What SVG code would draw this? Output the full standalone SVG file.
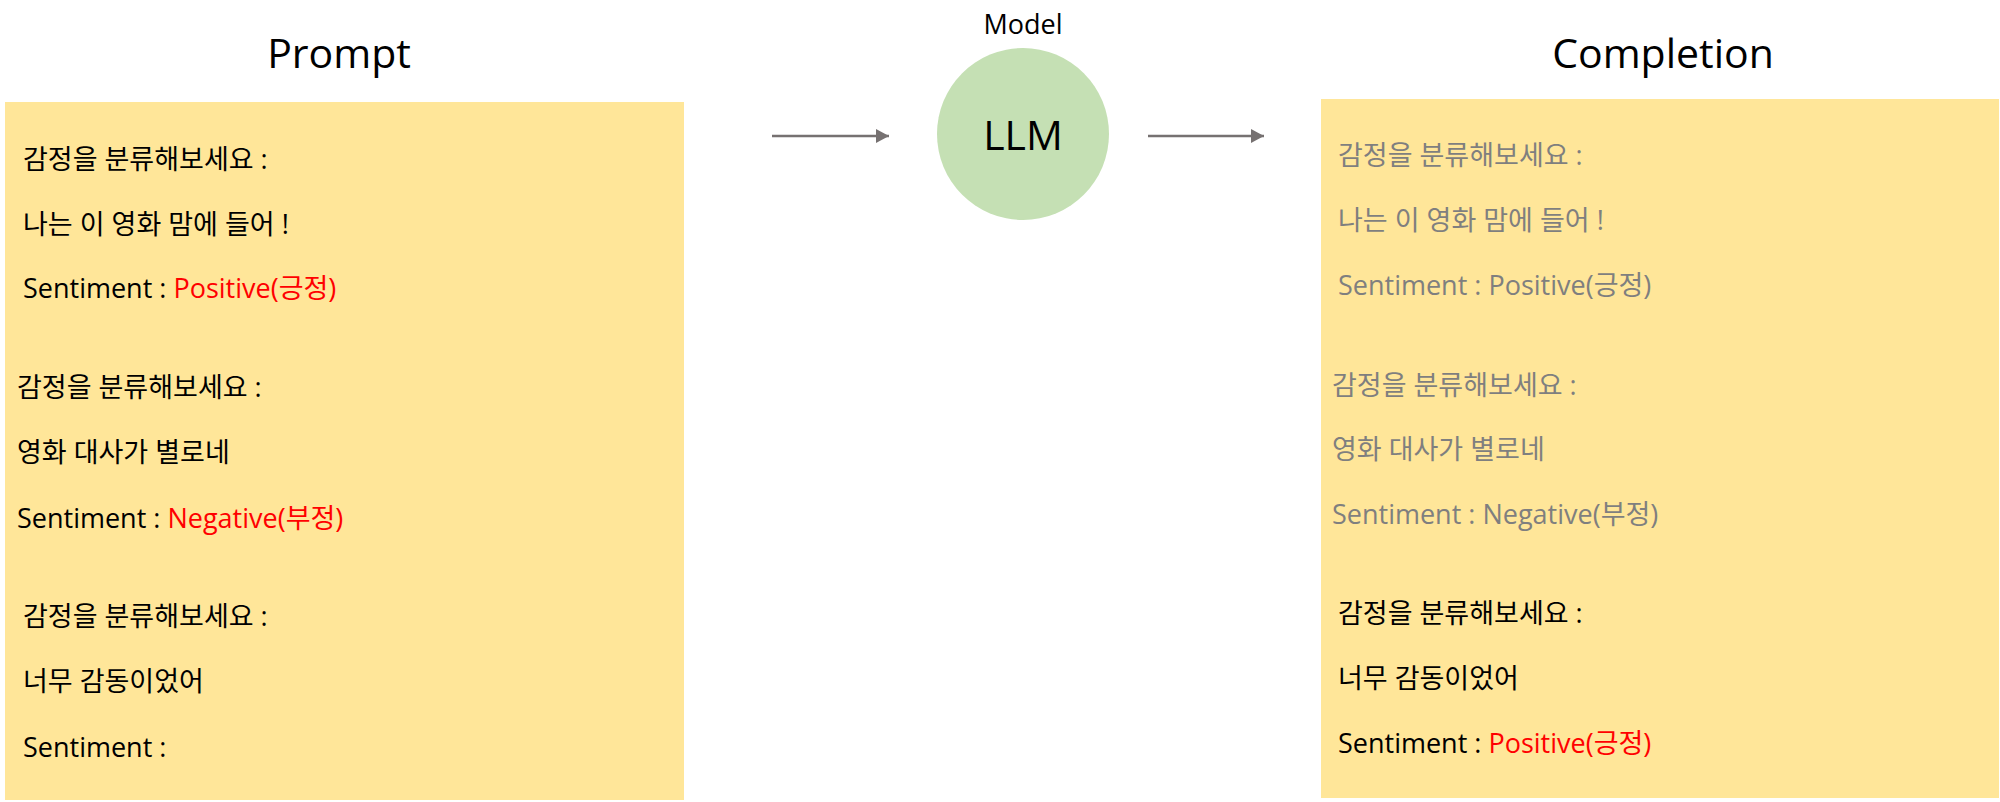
<svg xmlns="http://www.w3.org/2000/svg" width="2000" height="802" viewBox="0 0 2000 802">
<defs>
<style>
.title{font-family:"Open Sans","Noto Sans CJK KR",sans-serif;font-size:41px;fill:#000;text-anchor:middle}
.t{font-family:"Open Sans","Noto Sans CJK KR",sans-serif;font-size:27px;fill:#000}
.g{fill:#7F7F7F}
.r{fill:#FF0000}
.box{fill:#FFE699}
.conn{stroke:#767171;stroke-width:2.5;fill:none}
</style>
<marker id="ah" markerWidth="13" markerHeight="14" refX="13" refY="7" orient="auto" markerUnits="userSpaceOnUse">
<path d="M0,0 L13,7 L0,14 Z" fill="#767171"/>
</marker>
</defs>
<rect width="2000" height="802" fill="#FFFFFF"/>
<g id="prompt">
<text class="title" x="339" y="68">Prompt</text>
<rect class="box" x="5" y="102" width="679" height="698"/>
<text class="t" x="23" y="169">감정을 분류해보세요 :</text>
<text class="t" x="23" y="234">나는 이 영화 맘에 들어 !</text>
<text class="t" x="23" y="298">Sentiment : <tspan class="r">Positive(긍정)</tspan></text>
<text class="t" x="17" y="397">감정을 분류해보세요 :</text>
<text class="t" x="17" y="462">영화 대사가 별로네</text>
<text class="t" x="17" y="528">Sentiment : <tspan class="r">Negative(부정)</tspan></text>
<text class="t" x="23" y="626">감정을 분류해보세요 :</text>
<text class="t" x="23" y="691">너무 감동이었어</text>
<text class="t" x="23" y="757">Sentiment :</text>
</g>
<g id="model">
<text class="t" x="1023" y="34" text-anchor="middle">Model</text>
<circle cx="1023" cy="134" r="86" fill="#C5E0B4"/>
<text class="title" x="1023" y="150" font-size="39">LLM</text>
</g>
<g id="completion">
<text class="title" x="1663" y="68">Completion</text>
<rect class="box" x="1321" y="99" width="678" height="699"/>
<text class="t g" x="1338" y="165">감정을 분류해보세요 :</text>
<text class="t g" x="1338" y="230">나는 이 영화 맘에 들어 !</text>
<text class="t g" x="1338" y="295">Sentiment : Positive(긍정)</text>
<text class="t g" x="1332" y="395">감정을 분류해보세요 :</text>
<text class="t g" x="1332" y="459">영화 대사가 별로네</text>
<text class="t g" x="1332" y="524">Sentiment : Negative(부정)</text>
<text class="t" x="1338" y="623">감정을 분류해보세요 :</text>
<text class="t" x="1338" y="688">너무 감동이었어</text>
<text class="t" x="1338" y="753">Sentiment : <tspan class="r">Positive(긍정)</tspan></text>
</g>
<g id="connectors">
<line class="conn" x1="772" y1="136" x2="889" y2="136" marker-end="url(#ah)"/>
<line class="conn" x1="1148" y1="136" x2="1264" y2="136" marker-end="url(#ah)"/>
</g>
</svg>
